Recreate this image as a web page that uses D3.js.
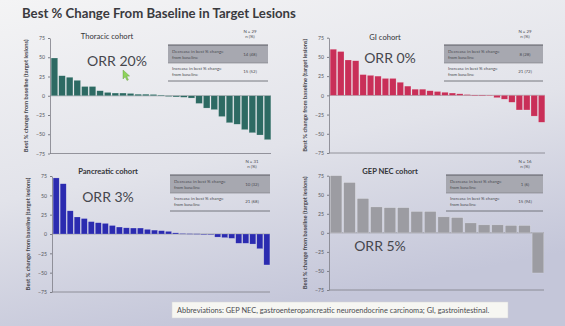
<!DOCTYPE html>
<html>
<head>
<meta charset="utf-8">
<script src="https://cdn.jsdelivr.net/npm/d3@7"></script>
<style>
  html, body { margin: 0; padding: 0; background: #e6e7ec; }
  svg { display: block; font-family: Lato, "Open Sans", sans-serif; }
</style>
</head>
<body>
<svg id="chart" width="565" height="326"></svg>
<script>
// Best % change from baseline per patient, sorted descending, one array per cohort
const thoracicValues = [49, 26, 24, 20, 12, 12, 6.5, 4.3, 3.5, 3.5, 3, 2, 2, 1.7, 1,
  -1, -1.5, -2, -3, -10, -16, -18, -27, -35, -37, -44, -48, -51, -57];
const giValues = [60, 57, 46, 45, 27, 26, 25, 22, 22, 17, 12, 8, 8, 6, 5, 4, 3, 2, 1, 0.5, 0.5,
  -0.5, -3, -5, -9, -19, -19, -27, -35];
const pancreaticValues = [72.5, 65, 30, 22, 20, 16, 14.6, 13.7, 11, 9, 8, 7.7, 7.7, 6, 5, 4.3, 3.4, 1.5, 0.6, 0.4, 0.3,
  -0.3, -0.5, -4, -4.7, -5.6, -12, -12, -13, -19, -40];
const gepNecValues = [75, 66, 45, 34, 33, 33, 28, 28, 21, 20, 13, 10.5, 10.5, 9.6, 9.6, -52.6];

const tickValues = [75, 50, 25, 0, -25, -50, -75];
const cohortNames = ["Thoracic cohort", "GI cohort", "Pancreatic cohort", "GEP NEC cohort"];
const orrLabels = ["ORR 20%", "ORR 0%", "ORR 3%", "ORR 5%"];
const cohortN = ["N = 29", "N = 29", "N = 31", "N = 16"];
const decreaseCounts = ["14 (48)", "8 (28)", "10 (32)", "1 (6)"];
const increaseCounts = ["15 (52)", "21 (72)", "21 (68)", "15 (94)"];
const barColors = ["#2d6a63", "#c92f58", "#2b2bb0", "#9c9ca2"];

const svg = d3.select("#chart");
const W = 565, H = 326;

// slide background: soft light-to-lavender wash
const defs = svg.append("defs");
const bg = defs.append("linearGradient").attr("id", "bg")
  .attr("x1", "0").attr("y1", "0").attr("x2", "0.35").attr("y2", "1");
bg.append("stop").attr("offset", "0").attr("stop-color", "#f4f4f5");
bg.append("stop").attr("offset", "0.55").attr("stop-color", "#e2e3ea");
bg.append("stop").attr("offset", "1").attr("stop-color", "#c4c6d9");
svg.append("rect").attr("width", W).attr("height", H).attr("fill", "url(#bg)");

svg.append("text")
  .attr("x", 22).attr("y", 18)
  .attr("font-size", 13.2).attr("font-weight", 700).attr("fill", "#3a3a3e")
  .text("Best % Change From Baseline in Target Lesions");

// panel geometry
const layout = [
  { values: thoracicValues, x0: 50, x1: 271, yTop: 38, yBot: 153.5, title: [107, 39], orr: [117, 66], table: [168, 268, 33] },
  { values: giValues, x0: 329, x1: 545, yTop: 37.7, yBot: 153, title: [385, 40], orr: [390, 63], table: [444, 543, 33] },
  { values: pancreaticValues, x0: 52, x1: 270, yTop: 176, yBot: 292, title: [108, 174], orr: [108, 202], table: [170, 270, 163] },
  { values: gepNecValues, x0: 329, x1: 544, yTop: 175.7, yBot: 290, title: [390, 174], orr: [380, 251], table: [446, 543, 163] }
];

layout.forEach((p, k) => {
  const g = svg.append("g");
  const x = d3.scaleBand().domain(d3.range(p.values.length))
    .range([p.x0 + 1, p.x1]).paddingInner(0.14).paddingOuter(0.02);
  const y = d3.scaleLinear().domain([-75, 75]).range([p.yBot, p.yTop]);

  // zero reference line
  g.append("line")
    .attr("x1", p.x0).attr("x2", p.x1).attr("y1", y(0)).attr("y2", y(0))
    .attr("stroke", "#8e8f96").attr("stroke-width", 0.8);

  g.selectAll("rect.bar").data(p.values).join("rect")
    .attr("class", "bar")
    .attr("x", (d, i) => x(i))
    .attr("width", x.bandwidth())
    .attr("y", d => y(Math.max(0, d)))
    .attr("height", d => Math.max(0.6, Math.abs(y(d) - y(0))))
    .attr("fill", barColors[k])
    .attr("stroke", "rgba(255,255,255,0.35)")
    .attr("stroke-width", 0.5);

  // y axis
  const ax = g.append("g")
    .attr("transform", `translate(${p.x0},0)`)
    .call(d3.axisLeft(y).tickValues(tickValues).tickSize(2).tickPadding(3).tickSizeOuter(0));
  ax.select(".domain").attr("stroke", "#7d7e86").attr("stroke-width", 0.8);
  ax.selectAll(".tick line").attr("stroke", "#7d7e86");
  ax.selectAll(".tick text").attr("font-size", 5.2).attr("fill", "#55565c")
    .attr("font-family", "Lato, sans-serif");

  // bottom axis line
  g.append("line")
    .attr("x1", p.x0).attr("x2", p.x1).attr("y1", p.yBot).attr("y2", p.yBot)
    .attr("stroke", "#7d7e86").attr("stroke-width", 0.8);

  // y axis title
  const yMid = (p.yTop + p.yBot) / 2;
  g.append("text")
    .attr("transform", `translate(${p.x0 - 22},${yMid}) rotate(-90)`)
    .attr("text-anchor", "middle")
    .attr("font-size", 5.8).attr("font-weight", 700).attr("fill", "#45464c")
    .text("Best % change from baseline (target lesions)");

  // cohort title
  g.append("text")
    .attr("x", p.title[0]).attr("y", p.title[1])
    .attr("text-anchor", "middle")
    .attr("font-size", 7.6).attr("font-weight", k >= 2 ? 700 : 400).attr("fill", "#333438")
    .text(cohortNames[k]);

  // ORR label
  g.append("text")
    .attr("x", p.orr[0]).attr("y", p.orr[1])
    .attr("text-anchor", "middle")
    .attr("font-size", 14).attr("fill", "#46474d")
    .text(orrLabels[k]);

  // summary table
  const [tx0, tx1, ty] = p.table;
  const valX = tx1 - 18;
  const t = g.append("g").attr("font-size", 4.4).attr("fill", "#4a4b50");
  t.append("text").attr("x", valX).attr("y", ty).attr("text-anchor", "middle").text(cohortN[k]);
  t.append("text").attr("x", valX).attr("y", ty + 5).attr("text-anchor", "middle").text("n (%)");
  t.append("rect").attr("x", tx0).attr("y", ty + 12).attr("width", tx1 - tx0).attr("height", 18)
    .attr("fill", "#a7a8b0");
  t.append("line").attr("x1", tx0).attr("x2", tx1).attr("y1", ty + 12).attr("y2", ty + 12)
    .attr("stroke", "#5a5b62").attr("stroke-width", 1);
  t.append("line").attr("x1", tx0).attr("x2", tx1).attr("y1", ty + 30).attr("y2", ty + 30)
    .attr("stroke", "#7a7b82").attr("stroke-width", 0.6);
  t.append("text").attr("x", tx0 + 4).attr("y", ty + 19.5).text("Decrease in best % change");
  t.append("text").attr("x", tx0 + 4).attr("y", ty + 25.5).text("from baseline");
  t.append("text").attr("x", valX).attr("y", ty + 22.5).attr("text-anchor", "middle").text(decreaseCounts[k]);
  t.append("text").attr("x", tx0 + 4).attr("y", ty + 37).text("Increase in best % change");
  t.append("text").attr("x", tx0 + 4).attr("y", ty + 43).text("from baseline");
  t.append("text").attr("x", valX).attr("y", ty + 40).attr("text-anchor", "middle").text(increaseCounts[k]);
  t.append("line").attr("x1", tx0).attr("x2", tx1).attr("y1", ty + 48).attr("y2", ty + 48)
    .attr("stroke", "#6a6b72").attr("stroke-width", 0.9);
});

// pointer resting near the thoracic ORR label
svg.append("path")
  .attr("d", "M123,70 L123,79 L125.2,76.8 L127,80.5 L128.4,79.8 L126.7,76.2 L129.6,76 Z")
  .attr("fill", "#8ed35a").attr("stroke", "#5d9a3a").attr("stroke-width", 0.4);

// abbreviations footnote
svg.append("rect")
  .attr("x", 172).attr("y", 302).attr("width", 336).attr("height", 16)
  .attr("fill", "#f6f6f2").attr("stroke", "#d6d6d8").attr("stroke-width", 0.5);
svg.append("text")
  .attr("x", 177).attr("y", 312.5)
  .attr("font-size", 7.4).attr("fill", "#4a4b50")
  .text("Abbreviations: GEP NEC, gastroenteropancreatic neuroendocrine carcinoma; GI, gastrointestinal.");
</script>
</body>
</html>
